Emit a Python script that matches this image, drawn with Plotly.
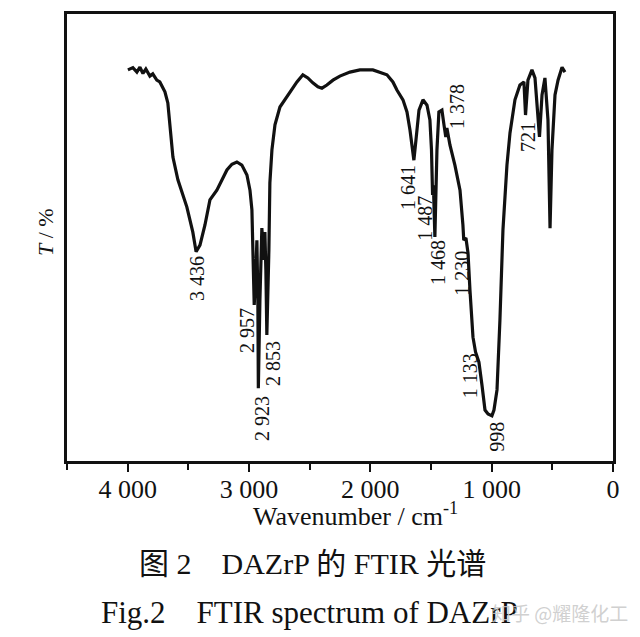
import plotly.graph_objects as go

# FTIR spectrum of DAZrP (wavenumber in cm^-1, transmittance in arbitrary %)
wavenumber = [3998, 3957, 3924, 3899, 3874, 3850, 3817, 3793, 3760, 3735, 3693, 3669, 3627, 3586,
              3512, 3463, 3436, 3404, 3363, 3322, 3265, 3224, 3182, 3141, 3100, 3059, 3017, 2992,
              2976, 2968, 2957, 2943, 2935, 2927, 2923, 2910, 2894, 2877, 2869, 2861, 2853, 2836,
              2828, 2811, 2786, 2745, 2704, 2663, 2605, 2556, 2515, 2474, 2432, 2399, 2358, 2308,
              2251, 2168, 2086, 1979, 1921, 1863, 1814, 1781, 1731, 1698, 1673, 1641, 1624, 1599,
              1566, 1533, 1509, 1496, 1487, 1480, 1468, 1459, 1451, 1435, 1410, 1393, 1378, 1369,
              1344, 1303, 1261, 1237, 1230, 1212, 1195, 1179, 1154, 1133, 1105, 1080, 1055, 1030,
              998, 981, 956, 932, 907, 874, 849, 808, 767, 734, 721, 701, 668, 643, 627, 606, 585,
              561, 536, 519, 503, 478, 453, 420, 396]
transmittance = [87.5, 88.0, 87.0, 88.1, 86.7, 87.7, 86.1, 86.6, 85.2, 84.8, 82.6, 80.1, 68.0, 62.9,
                 56.8, 51.2, 46.8, 48.3, 52.8, 58.4, 60.6, 62.9, 65.1, 66.4, 66.9, 66.2, 64.0, 60.6,
                 56.2, 47.2, 34.9, 42.7, 49.4, 36.0, 16.3, 36.0, 52.1, 45.0, 51.2, 42.7, 28.2, 47.2,
                 62.2, 69.6, 75.2, 79.2, 80.8, 82.6, 84.8, 86.4, 85.7, 84.6, 83.7, 83.4, 84.1, 85.2,
                 86.1, 87.0, 87.5, 87.5, 87.0, 86.4, 84.8, 83.0, 80.8, 78.1, 74.0, 67.3, 71.8, 78.5,
                 80.8, 79.6, 76.3, 69.6, 59.5, 61.7, 50.1, 58.4, 69.6, 78.1, 78.5, 75.2, 72.5, 74.5,
                 70.7, 66.2, 60.6, 52.8, 49.4, 49.9, 46.5, 38.3, 27.7, 24.4, 22.1, 17.0, 11.4, 10.5,
                 10.1, 11.4, 15.9, 31.5, 51.7, 66.2, 73.4, 80.8, 84.1, 84.8, 77.4, 85.2, 87.5, 85.7,
                 80.8, 72.5, 81.9, 85.7, 76.3, 52.1, 69.6, 81.9, 85.2, 88.1, 87.0]

peak_labels = ["3 436", "2 957", "2 923", "2 853", "1 641", "1 487", "1 468", "1 378",
               "1 230", "1 133", "998", "721"]
# label anchor positions (wavenumber, T) for the rotated peak labels
label_x = [3430, 3017, 2894, 2803, 1690, 1550, 1443, 1286, 1245, 1179, 956, 701]
label_y = [40.9, 29.3, 9.6, 21.9, 61.3, 54.4, 44.5, 79.4, 42.1, 19.2, 5.4, 72.5]

tick_values = [4000, 3000, 2000, 1000, 0]
tick_labels = ["4 000", "3 000", "2 000", "1 000", "0"]

SERIF = "Liberation Serif, Times New Roman, serif"
CJK = "Liberation Serif, Noto Sans CJK SC, serif"

fig = go.Figure()
fig.add_trace(go.Scatter(x=wavenumber, y=transmittance, mode="lines",
                         line=dict(color="#111111", width=3.2, shape="linear"),
                         hoverinfo="skip", showlegend=False))

for txt, lx, ly in zip(peak_labels, label_x, label_y):
    fig.add_annotation(x=lx, y=ly, xref="x", yref="y", text=txt, showarrow=False,
                       textangle=-90, xanchor="center", yanchor="middle",
                       font=dict(family=SERIF, size=20, color="#111111"))

W, H = 640, 637
L, R, T, B = 67, 27, 14, 176


def px(xp):
    return (xp - L) / (W - L - R)


def py(yp):
    return (H - B - yp) / (H - T - B)


def text_at(xp, yp, text, font, angle=0):
    fig.add_annotation(x=px(xp), y=py(yp), xref="paper", yref="paper", showarrow=False,
                       text=text, textangle=angle, xanchor="center", yanchor="middle",
                       font=font)


text_at(45, 232, "<i>T</i> / %", dict(family=SERIF, size=22, color="#111111"), -90)
text_at(355, 514, "Wavenumber / cm<sup>-1</sup>", dict(family=SERIF, size=26, color="#111111"))
text_at(312, 563, "图 2    DAZrP 的 FTIR 光谱", dict(family=CJK, size=30, color="#111111"))
text_at(309, 612, "Fig.2    FTIR spectrum of DAZrP", dict(family=SERIF, size=31, color="#111111"))
text_at(560, 612, "知乎 @耀隆化工",
        dict(family="Noto Sans CJK SC", size=19, color="rgba(200,200,200,0.85)"))

fig.update_xaxes(range=[4500, 0], tickvals=tick_values, ticktext=tick_labels,
                 ticks="outside", ticklen=8, tickwidth=2, tickcolor="#111111",
                 ticklabelstandoff=-5,
                 minor=dict(dtick=500, tick0=0, ticks="outside", ticklen=6, tickwidth=2,
                            tickcolor="#111111", showgrid=False),
                 showline=True, linewidth=2.5, linecolor="#111111", mirror=True,
                 showgrid=False, zeroline=False,
                 tickfont=dict(family=SERIF, size=26, color="#111111"))
fig.update_yaxes(range=[0, 100], showticklabels=False, ticks="",
                 showline=True, linewidth=2.5, linecolor="#111111", mirror=True,
                 showgrid=False, zeroline=False)

fig.update_layout(width=W, height=H, margin=dict(l=L, r=R, t=T, b=B),
                  plot_bgcolor="white", paper_bgcolor="white")

fig.write_html("out.html")
